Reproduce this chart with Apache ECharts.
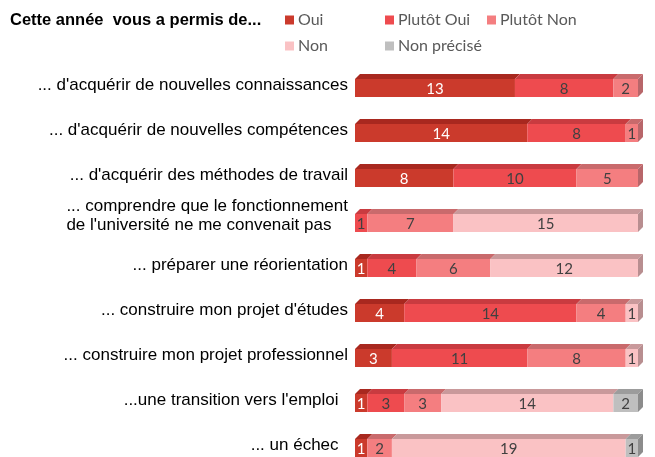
<!DOCTYPE html>
<html><head><meta charset="utf-8">
<script src="https://cdn.jsdelivr.net/npm/echarts@6/dist/echarts.min.js"></script>
<style>html,body{margin:0;padding:0;background:#fff;overflow:hidden}#c{width:655px;height:468px}</style>
</head><body><div id="c"></div>
<script>
const categories = [
  "... d'acquérir de nouvelles connaissances",
  "... d'acquérir de nouvelles compétences",
  "... d'acquérir des méthodes de travail",
  "... comprendre que le fonctionnement\nde l'université ne me convenait pas",
  "... préparer une réorientation",
  "... construire mon projet d'études",
  "... construire mon projet professionnel",
  "...une transition vers l'emploi  ",
  "... un échec  "
];
const seriesNames = ["Oui", "Plutôt Oui", "Plutôt Non", "Non", "Non précisé"];
const oui        = [13, 14, 8, 0, 1, 4, 3, 1, 1];
const plutotOui  = [8, 8, 10, 1, 4, 14, 11, 3, 0];
const plutotNon  = [2, 1, 5, 7, 6, 4, 8, 3, 2];
const non        = [0, 0, 0, 15, 12, 1, 1, 14, 19];
const nonPrecise = [0, 0, 0, 0, 0, 0, 0, 2, 1];
const titleText = "Cette année  vous a permis de...";

const values = [oui, plutotOui, plutotNon, non, nonPrecise];
const frontColors = ['#cb3a2c', '#ee4b4f', '#f47e80', '#fac2c4', '#bfbfbf'];
const topColors   = ['#a8281f', '#c93b40', '#c96a6c', '#c9999b', '#9c9c9c'];
const sideColors  = ['#9e2a22', '#b8383c', '#b8666a', '#b88e90', '#8c8c8c'];
const labelColors = ['#ffffff', '#404040', '#404040', '#404040', '#404040'];

const lastIdx = categories.map((_, r) => {
  let l = -1; values.forEach((arr, s) => { if (arr[r] > 0) l = s; }); return l;
});

const D = 5;
function makeSeries(s) {
  const data = categories.map((_, r) => {
    let start = 0; for (let k = 0; k < s; k++) start += values[k][r];
    return [values[s][r], r, start, lastIdx[r] === s ? 1 : 0];
  });
  return {
    type: 'custom', name: seriesNames[s],
    itemStyle: { color: frontColors[s] },
    encode: { x: [2], y: 1 },
    data,
    renderItem: function (params, api) {
      const v = api.value(0); if (!v) return;
      const r = api.value(1), st = api.value(2), last = api.value(3);
      const a = api.coord([st, r]), b = api.coord([st + v, r]);
      const c = a[1];
      const x0 = a[0], x1 = b[0];
      const ft = c - 6.5, fb = c + 11.5;
      const children = [
        { type: 'polygon', shape: { points: [[x0, ft], [x1, ft], [x1 + D, ft - D], [x0 + D, ft - D]] },
          style: { fill: topColors[s] } },
        { type: 'rect', shape: { x: x0, y: ft, width: x1 - x0, height: fb - ft },
          style: { fill: frontColors[s] } }
      ];
      if (last) children.push({ type: 'polygon', shape: { points: [[x1, ft], [x1 + D, ft - D], [x1 + D, fb - D], [x1, fb]] },
          style: { fill: sideColors[s] } });
      children.push({ type: 'text', style: { text: String(v), x: (x0 + x1) / 2, y: (ft + fb) / 2 + 1,
          align: 'center', verticalAlign: 'middle', fill: labelColors[s],
          fontSize: 15, fontFamily: 'Lato' } });
      return { type: 'group', children };
    }
  };
}

const legendPos = [[280, 7], [380, 7], [482, 7], [280, 33], [380, 33]];
const legends = seriesNames.map((n, i) => ({
  data: [n], left: legendPos[i][0], top: legendPos[i][1], icon: 'rect',
  itemWidth: 9, itemHeight: 9, itemGap: 4, selectedMode: false,
  textStyle: { color: '#595959', fontSize: 16, fontFamily: 'Lato', padding: [0, 0, 0, -1] }
}));

const chart = echarts.init(document.getElementById('c'), null, { renderer: 'canvas' });
chart.setOption({
  animation: false,
  title: { text: titleText, left: 5, top: 7, textStyle: { fontFamily: 'Liberation Sans', fontWeight: 'bold', fontSize: 16.5, color: '#000' } },
  legend: legends,
  grid: { left: 355, right: 17, top: 63, bottom: 0 },
  xAxis: { type: 'value', min: 0, max: 23, show: false },
  yAxis: {
    type: 'category', inverse: true,
    data: categories.map(c => c.indexOf('\n') >= 0 ? { value: c, textStyle: { padding: [0, 0, 10, 0] } } : c),
    axisLine: { show: false }, axisTick: { show: false },
    axisLabel: {
      margin: 7, color: '#000', fontSize: 17, fontFamily: 'Liberation Sans', lineHeight: 19,
      formatter: v => v.split('\n').map(l => '{a|' + l + '}').join('\n'),
      rich: { a: { align: 'left', fontSize: 17, fontFamily: 'Liberation Sans', color: '#000', lineHeight: 19 } }
    }
  },
  series: seriesNames.map((_, s) => makeSeries(s))
});
</script></body></html>
